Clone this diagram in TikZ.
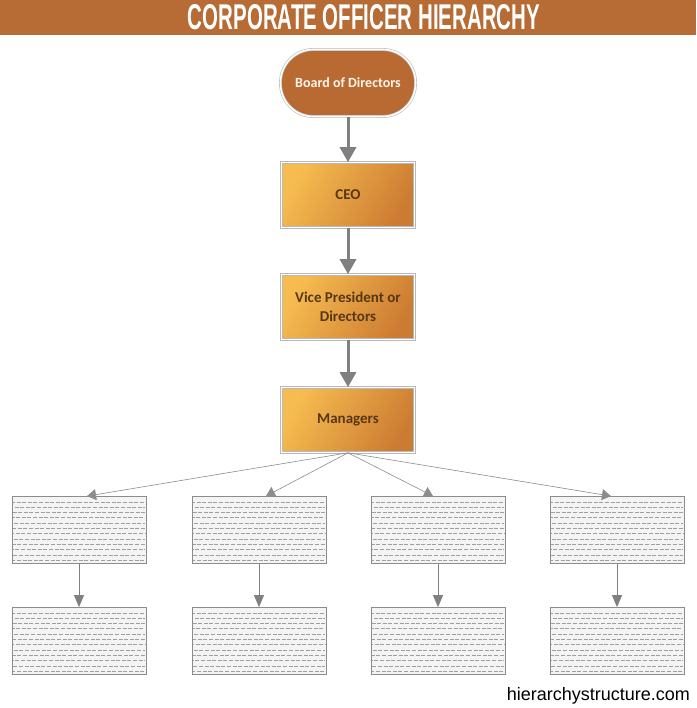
\documentclass[tikz,border=0pt]{standalone}
\usepackage{fontspec}
\usepackage{graphicx}
\setmainfont{Carlito}
\newfontfamily\titlefont{Liberation Sans}
\newfontfamily\webfont{Liberation Sans}
\usetikzlibrary{arrows.meta,calc}
\definecolor{titlebrown}{RGB}{182,108,52}
\definecolor{boardbrown}{RGB}{184,106,50}
\definecolor{lightorange}{RGB}{246,188,80}
\definecolor{darkorange}{RGB}{204,124,50}
\definecolor{officertext}{RGB}{88,55,20}
\definecolor{linegray}{RGB}{128,128,128}
\definecolor{blankfill}{RGB}{244,244,244}

\begin{document}
\begin{tikzpicture}[x=1pt,y=-1pt,
    board/.style={rounded corners=33pt, minimum width=135pt, minimum height=67pt,
        fill=boardbrown, draw=gray!55, line width=0.6pt, double=white, double distance=1.6pt,
        text=white!92!orange, font=\bfseries\fontsize{14}{16}\selectfont},
    officer/.style={rectangle, minimum width=133pt, minimum height=65pt,
        left color=lightorange, right color=darkorange, shading angle=60,
        draw=gray!55, line width=0.6pt, double=white, double distance=1.6pt,
        text=officertext, align=center, font=\bfseries\fontsize{15}{19}\selectfont},
    blank/.style={rectangle, minimum width=134pt, minimum height=67pt,
        fill=blankfill, draw=gray!90, line width=0.8pt,
        path picture={
            \foreach \k in {1,...,12}
                \draw[gray!75, line width=0.45pt, dash pattern=on 4pt off 1.6pt,
                      dash phase=\k*2pt]
                    ($(path picture bounding box.north west)+(1,\k*5.3)$) --
                    ($(path picture bounding box.north east)+(-1,\k*5.3)$);
        }},
    bigarrow/.style={draw=linegray, line width=3pt, -{Triangle[width=16pt,length=15pt]}},
    thinarrow/.style={draw=linegray, line width=0.9pt, -{Triangle[width=10pt,length=12pt]}},
    fanarrow/.style={draw=gray!90, line width=0.6pt, -{Triangle[width=11pt,length=9pt]}}]
    \useasboundingbox (0,0) rectangle (696,708);
    \fill[white] (0,0) rectangle (696,708);
    % title bar
    \fill[titlebrown] (0,0) rectangle (696,35);
    \node[text=white, inner sep=0pt] (title) at (364,17.5)
        {\resizebox{352pt}{25pt}{\titlefont\bfseries CORPORATE OFFICER HIERARCHY}};
    % officers
    \node[board] (board) at (348,83) {Board of Directors};
    \node[officer] (ceo) at (348,195) {CEO};
    \node[officer] (vp) at (348,307) {Vice President or\\Directors};
    \node[officer] (mgr) at (348,420) {Managers};
    \draw[bigarrow] (board) -- (ceo);
    \draw[bigarrow] (ceo) -- (vp);
    \draw[bigarrow] (vp) -- (mgr);
    % empty boxes under the managers
    \foreach \i/\x/\s in {1/79/8,2/259/7,3/438/-5,4/617/-6} {
        \node[blank] (top\i) at (\x,530) {};
        \node[blank] (bot\i) at (\x,641) {};
        \draw[fanarrow] (mgr.south) -- ([xshift=\s pt]top\i.north);
        \draw[thinarrow] (top\i) -- (bot\i);
    }
    \node[anchor=south east, inner sep=0pt] (site) at (690,704)
        {\webfont\fontsize{18}{20}\selectfont hierarchystructure.com};
\end{tikzpicture}
\end{document}
